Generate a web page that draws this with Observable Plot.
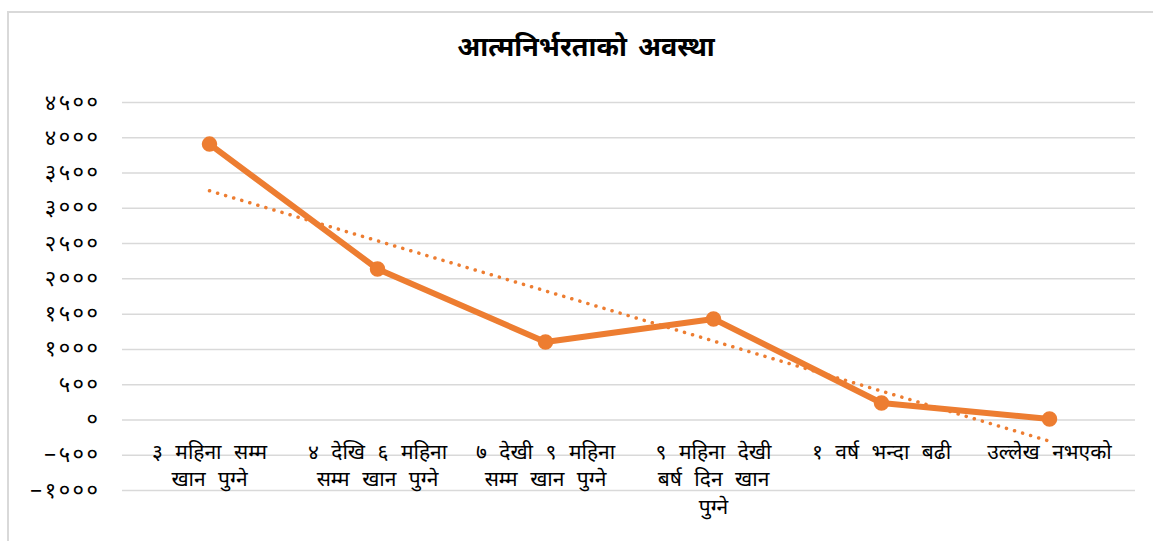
<!DOCTYPE html>
<html>
<head>
<meta charset="utf-8">
<script src="https://cdn.jsdelivr.net/npm/d3@7"></script>
<script src="https://cdn.jsdelivr.net/npm/@observablehq/plot@0.6"></script>
<style>
  html, body { margin: 0; padding: 0; background: #fff; width: 1153px; height: 541px; overflow: hidden; }
  #frame { position: absolute; left: 7px; top: 11px; width: 1160px; height: 540px;
           border-left: 2px solid #d9d9d9; border-top: 2px solid #d9d9d9; }
  #title { position: absolute; left: 0; top: 30px; width: 1172px; text-align: center;
           font-family: "Noto Sans Devanagari", "Noto Sans", "DejaVu Sans", sans-serif;
           font-size: 27px; font-weight: bold; color: #000; line-height: 40px; word-spacing: 4px; }
  #chart { position: absolute; left: 0; top: 80px; }
  #chart svg { overflow: visible; }
  .ylab text { letter-spacing: 2.5px; }
  .xlab text { word-spacing: 7px; }
</style>
</head>
<body>
<div id="frame"></div>
<div id="title">आत्मनिर्भरताको अवस्था</div>
<div id="chart"></div>
<script>
const categories = [
  "३ महिना सम्म\nखान पुग्ने",
  "४ देखि ६ महिना\nसम्म खान पुग्ने",
  "७ देखी ९ महिना\nसम्म खान पुग्ने",
  "९ महिना देखी\nबर्ष दिन खान\nपुग्ने",
  "१ वर्ष भन्दा बढी",
  "उल्लेख नभएको"
];
const values = [3910, 2140, 1106, 1432, 241, 15];
const yTicks = [-1000, -500, 0, 500, 1000, 1500, 2000, 2500, 3000, 3500, 4000, 4500];

const devDigits = "०१२३४५६७८९";
const toDev = n => (n < 0 ? "−" : "") + String(Math.abs(n)).replace(/[0-9]/g, d => devDigits[+d]);

const data = categories.map((c, i) => ({cat: c, i: i + 1, value: values[i]}));

// linear trendline (least squares) like the spreadsheet's
const mx = d3.mean(data, d => d.i), my = d3.mean(data, d => d.value);
const slope = d3.sum(data, d => (d.i - mx) * (d.value - my)) / d3.sum(data, d => (d.i - mx) ** 2);
const trend = data.map(d => ({cat: d.cat, value: my + slope * (d.i - mx)}));

const orange = "#ed7d31";
const font = `"Noto Sans Devanagari", "Noto Sans", "DejaVu Sans", sans-serif`;

const chart = Plot.plot({
  width: 1153,
  height: 461,
  marginLeft: 122,
  marginRight: 18,
  marginTop: 22,
  marginBottom: 51,
  style: {fontFamily: font, fontSize: "21px", color: "#000", background: "transparent"},
  x: {type: "point", domain: categories, padding: 0.5, axis: null},
  y: {domain: [-1000, 4500], axis: null},
  marks: [
    Plot.gridY(yTicks, {stroke: "#d9d9d9", strokeOpacity: 1, strokeWidth: 1.5}),
    Plot.axisY(yTicks, {tickSize: 0, tickPadding: 22, tickFormat: toDev, fontSize: 22, label: null, fill: "#000", className: "ylab"}),
    Plot.text(categories, {x: d => d, y: 0, text: d => d, dy: 19, lineAnchor: "top", lineHeight: 1.32, fontSize: 21, fill: "#000", className: "xlab"}),
    Plot.line(trend, {x: "cat", y: "value", stroke: orange, strokeWidth: 3.5, strokeDasharray: "0.1 8.3", strokeLinecap: "round"}),
    Plot.line(data, {x: "cat", y: "value", stroke: orange, strokeWidth: 6, strokeLinejoin: "round"}),
    Plot.dot(data, {x: "cat", y: "value", r: 7, fill: orange, stroke: orange})
  ]
});
document.getElementById("chart").appendChild(chart);
</script>
</body>
</html>
